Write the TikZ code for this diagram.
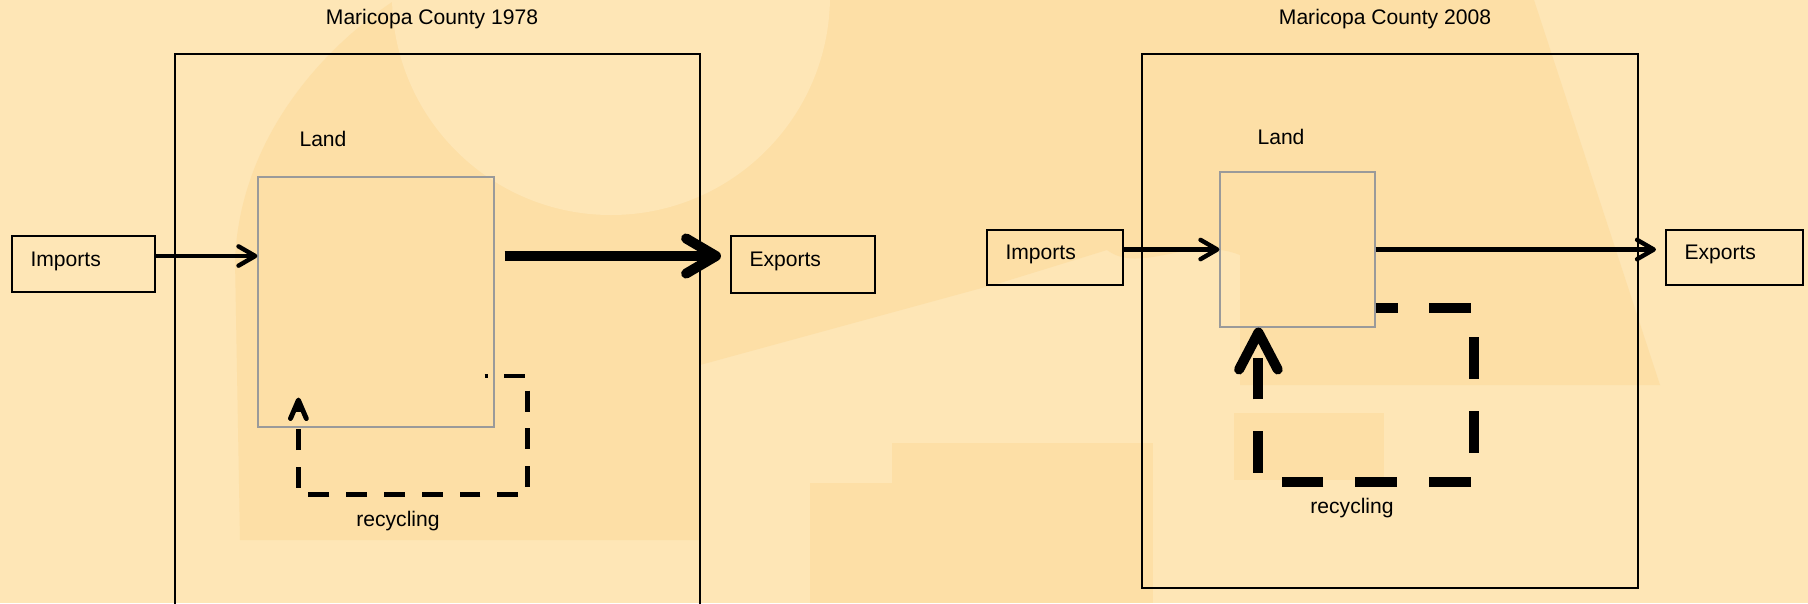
\documentclass[tikz,border=0pt]{standalone}
\usepackage{fontspec}
\setmainfont{Liberation Sans}
\usetikzlibrary{arrows.meta,calc}

\begin{document}
\begin{tikzpicture}[x=0.02cm, y=-0.02cm,
    font=\fontsize{12}{14}\selectfont,
    rahmen/.style={draw=black, line width=1.5pt},
    kasten/.style={draw=black, line width=1.2pt, inner xsep=0.37cm, inner ysep=0pt,
      text depth=5.5pt, align=left},
    flaeche/.style={draw=landgrau, line width=0.7pt, inner sep=0pt},
    fluss/.style={line width=2.5pt, -{Straight Barb[length=9.5pt, width=11pt, round]}},
    grossfluss/.style={line width=5.7pt, -{Straight Barb[length=17pt, width=20pt, round]}},
    kreis1/.style={line width=2.8pt, dash pattern=on 11.9pt off 9.6pt, dash phase=10.2pt,
      -{Straight Barb[length=10.5pt, width=9pt, round]}},
    kreis2/.style={line width=5.7pt, dash pattern=on 23.8pt off 18.1pt, dash phase=11.3pt,
      -{Straight Barb[length=21pt, width=22pt, round]}}
  ]

  % --- Farben ---
  \definecolor{hgHell}{HTML}{FEE6B6}   % Grundton
  \definecolor{hgDunkel}{HTML}{FDDFA6} % dunklere Flaechen
  \definecolor{landgrau}{HTML}{9A9A9A} % Rand Land

  \useasboundingbox (0,0) rectangle (1808,603);
  \clip (0,0) rectangle (1808,603);

  % --- Hintergrund ---
  \fill[hgHell] (0,0) rectangle (1808,603);
  % grosse Flaeche links
  \fill[hgDunkel] (240,540) -- (235,260) .. controls (240,140) and (320,50) .. (395,0)
    -- (1107,0) -- (1107,250) -- (1000,283) -- (700,365) -- (700,540) -- cycle;
  % Flaeche rechts, schraeg begrenzt
  \fill[hgDunkel] (1107,0) -- (1534,0) -- (1660,385) -- (1240,385) -- (1240,255)
    .. controls (1190,235) and (1140,275) .. (1107,250) -- cycle;
  \fill[hgHell] (611,-4) circle [radius=219];
  % Stufen unten
  \fill[hgDunkel] (892,443) rectangle (1153,603);
  \fill[hgDunkel] (810,483) rectangle (892,603);
  \fill[hgDunkel] (1234,413) rectangle (1384,480);

  % --- 1978 ---
  \node (titel1) at (432,19) {Maricopa County 1978};
  \draw[rahmen] (175,54) rectangle (700,640);
  \node (landtxt1) at (323,139) {Land};
  \node[flaeche, minimum width=4.72cm, minimum height=5cm] (land1) at (376,302) {};
  \node[kasten, text width=2.12cm, minimum height=1.12cm] (imp1) at (83.5,264) {Imports};
  \node[kasten, text width=2.14cm, minimum height=1.14cm] (exp1) at (803,264.5) {Exports};
  \node (rectxt1) at (398,521) {recycling};

  \coordinate (i1) at ($(imp1.east)+(0,-8)$);
  \draw[fluss] (i1) -- (i1 -| land1.west);
  \draw[grossfluss] ($(i1 -| land1.east)+(10,0)$) -- ($(i1 -| exp1.west)+(-9,0)$);

  % Recycling-Schleife (duenn)
  \coordinate (r1a) at ($(land1.east)+(-10,74)$);
  \coordinate (r1b) at ($(land1.south west)+(41,-30)$);
  \draw[kreis1] (r1a) -| ($(land1.south east)+(33,67)$) -| (r1b);

  % --- 2008 ---
  \node (titel2) at (1385,19) {Maricopa County 2008};
  \draw[rahmen] (1142,54) rectangle (1638,588);
  \node (landtxt2) at (1281,137) {Land};
  \node[flaeche, minimum width=3.1cm, minimum height=3.1cm] (land2) at (1297.5,249.5) {};
  \node[kasten, text width=1.98cm, minimum height=1.1cm] (imp2) at (1055,257.5) {Imports};
  \node[kasten, text width=2cm, minimum height=1.1cm] (exp2) at (1734.5,257.5) {Exports};
  \node (rectxt2) at (1352,508) {recycling};

  \coordinate (i2) at ($(imp2.east)+(0,-8)$);
  \draw[fluss] (i2) -- (i2 -| land2.west);
  \draw[fluss] (i2 -| land2.east) -- ($(i2 -| exp2.west)+(-9,0)$);

  % Recycling-Schleife (dick)
  \coordinate (r2a) at ($(land2.east)+(0,58.5)$);
  \coordinate (r2b) at ($(land2.south west)+(39,0)$);
  \draw[kreis2] (r2a) -| ($(land2.south east)+(98,154)$) -| (r2b);

\end{tikzpicture}
\end{document}
